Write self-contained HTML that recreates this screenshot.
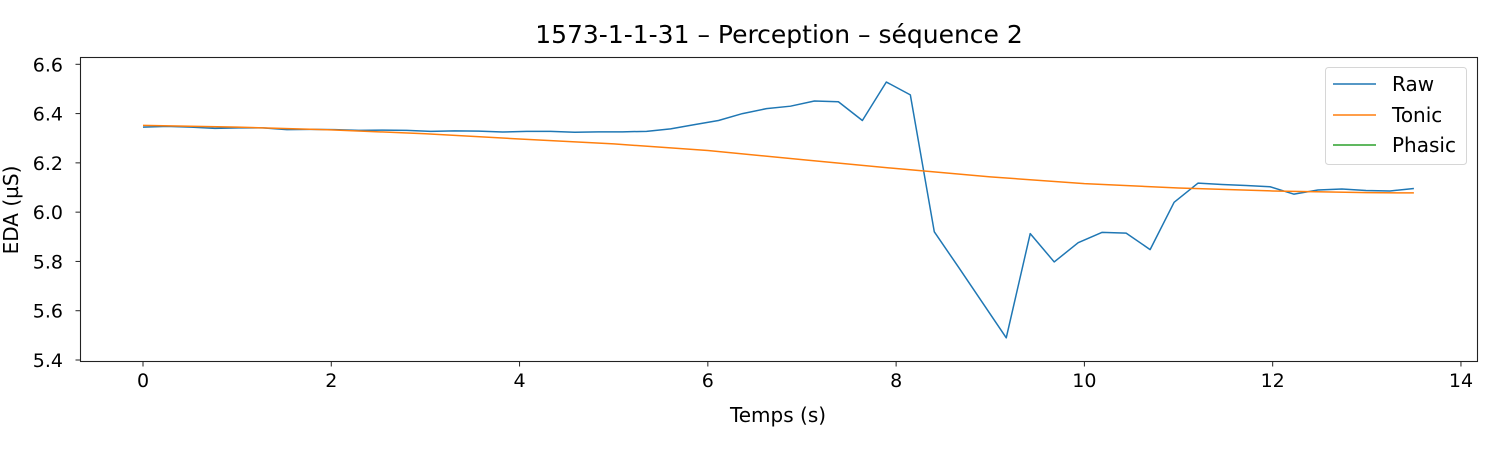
<!DOCTYPE html>
<html><head><meta charset="utf-8"><style>
html,body{margin:0;padding:0;background:#fff;}
svg{display:block;font-family:"DejaVu Sans","Liberation Sans",sans-serif;}
</style></head><body>
<svg id="chart" width="1500" height="450" viewBox="0 0 1500 450" xmlns="http://www.w3.org/2000/svg">
<rect x="0" y="0" width="1500" height="450" fill="#fff"/>
<text x="779" y="43" font-size="25" text-anchor="middle" fill="#000">1573-1-1-31 – Perception – séquence 2</text>
<g id="plot"></g>
<g id="axes"></g>
<text x="778" y="422" font-size="20" text-anchor="middle">Temps (s)</text>
<text transform="translate(18,210) rotate(-90)" font-size="20" text-anchor="middle">EDA (µS)</text>
<g>
<rect x="1325.5" y="67.5" width="141" height="97" rx="3" fill="#fff" fill-opacity="0.8" stroke="#d6d6d6"/>
<line x1="1333" y1="84" x2="1376" y2="84" stroke="#1f77b4" stroke-width="1.5"/>
<text x="1392" y="91" font-size="20">Raw</text>
<line x1="1333" y1="115" x2="1376" y2="115" stroke="#ff7f0e" stroke-width="1.5"/>
<text x="1392" y="122" font-size="20">Tonic</text>
<line x1="1333" y1="145" x2="1376" y2="145" stroke="#2ca02c" stroke-width="1.5"/>
<text x="1392" y="152" font-size="20">Phasic</text>
</g>
</svg>
<script>
const rawValues=[6.345,6.348,6.345,6.340,6.342,6.342,6.335,6.336,6.335,6.332,6.333,6.332,6.328,6.330,6.329,6.325,6.328,6.328,6.324,6.326,6.326,6.328,6.338,6.355,6.372,6.400,6.420,6.430,6.451,6.448,6.372,6.528,6.476,5.920,5.778,5.634,5.490,5.913,5.798,5.876,5.918,5.915,5.848,6.040,6.118,6.112,6.108,6.103,6.073,6.090,6.094,6.088,6.086,6.096];
const rawEnd=13.5;
const tonicTimes=[0,1,2,3,4,5,6,7,8,9,10,11,12,13,13.5];
const tonicValues=[6.352,6.345,6.334,6.318,6.297,6.277,6.250,6.213,6.177,6.143,6.116,6.098,6.086,6.079,6.078];
const xTicks=[0,2,4,6,8,10,12,14];
const yTicks=[5.4,5.6,5.8,6.0,6.2,6.4,6.6];
const yTickLabels=["5.4","5.6","5.8","6.0","6.2","6.4","6.6"];

const L=80,R=1478,T=57,B=362;
function xs(v){return 143+v*94.14;}
function ys(v){return 360-(v-5.4)*(295.7/1.2);}
const NS="http://www.w3.org/2000/svg";
const plot=document.getElementById('plot'),axes=document.getElementById('axes');
function mk(tag,attrs,parent){const e=document.createElementNS(NS,tag);for(const k in attrs)e.setAttribute(k,attrs[k]);parent.appendChild(e);return e;}

const n=rawValues.length;
const step=rawEnd/(n-1);
let d=rawValues.map((v,i)=>(i?'L':'M')+xs(i*step).toFixed(2)+','+ys(v).toFixed(2)).join(' ');
const rp=mk('path',{d:d,fill:'none',stroke:'#1f77b4','stroke-width':1.5,'stroke-linejoin':'round'},plot);


let d2=tonicValues.map((v,i)=>(i?'L':'M')+xs(tonicTimes[i]).toFixed(2)+','+ys(v).toFixed(2)).join(' ');
const tp=mk('path',{d:d2,fill:'none',stroke:'#ff7f0e','stroke-width':1.5,'stroke-linejoin':'round'},plot);



const frame=mk('rect',{x:L+0.5,y:T+0.5,width:R-L-1,height:B-T-1,fill:'none',stroke:'#222','stroke-width':1.1},axes);


xTicks.forEach(t=>{
  const x=xs(t);
  const tk=mk('line',{x1:x,y1:B,x2:x,y2:B+4.5,stroke:'#222','stroke-width':1},axes);
  
  
  const lb=mk('text',{x:x,y:B+25,'font-size':19,'text-anchor':'middle'},axes);
  lb.textContent=String(t);
  
  
});
yTicks.forEach((t,i)=>{
  const y=ys(t);
  const tk=mk('line',{x1:L-4.5,y1:y,x2:L,y2:y,stroke:'#222','stroke-width':1},axes);
  
  
  const lb=mk('text',{x:L-17,y:y+7,'font-size':19,'text-anchor':'end'},axes);
  lb.textContent=yTickLabels[i];
  
  
});
</script>
</body></html>
